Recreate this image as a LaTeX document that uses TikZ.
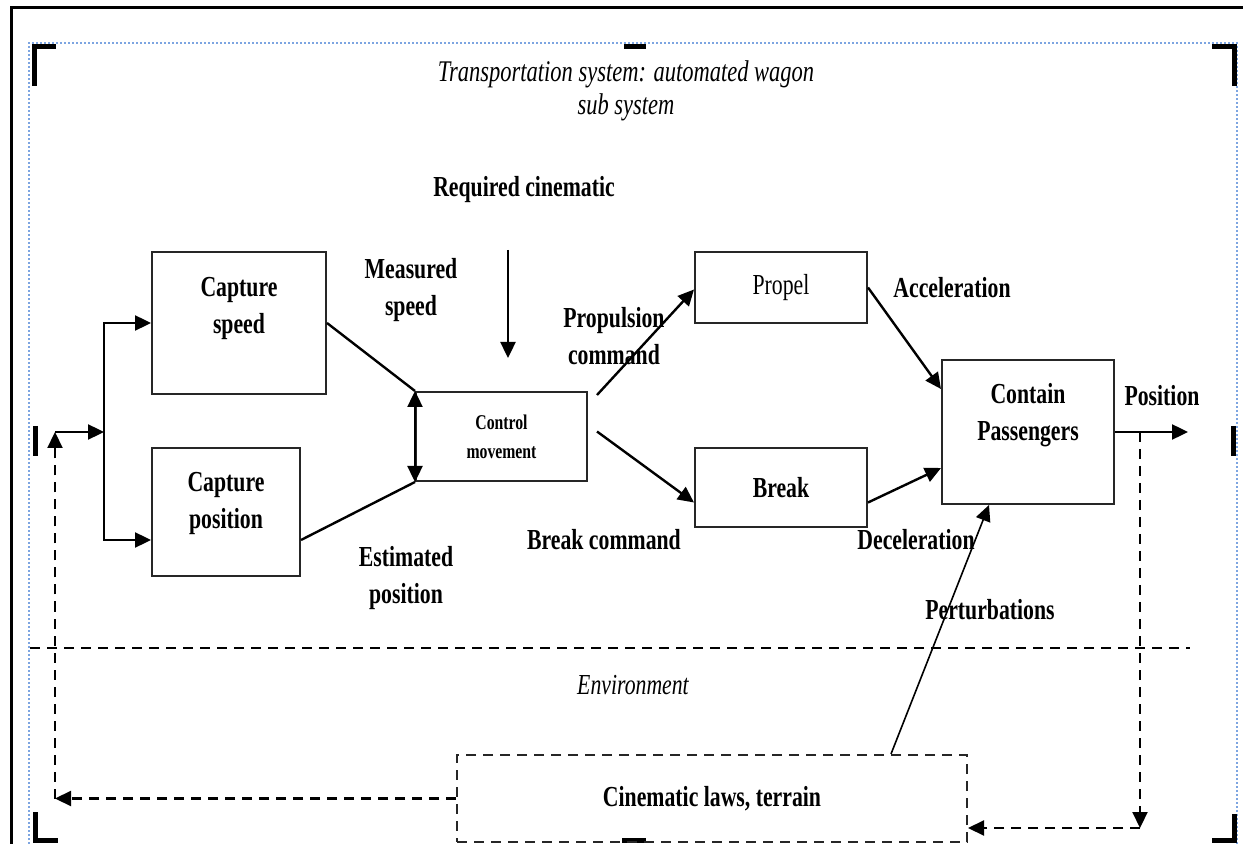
\documentclass[tikz,border=0pt]{standalone}
\usepackage{fontspec}
\setmainfont{Liberation Serif}[FakeStretch=0.75]
\usetikzlibrary{arrows.meta,calc}
\tikzset{
  box/.style={draw=black!85,line width=1pt,inner sep=0pt},
  lbl/.style={font=\fontsize{14.5}{18.5}\selectfont\bfseries,align=center,inner sep=0pt},
  wire/.style={line width=1.2pt},
  dwire/.style={line width=1.1pt,dash pattern=on 5pt off 3.5pt},
  handle/.style={line width=2.5pt,line join=miter},
}
\begin{document}
\begin{tikzpicture}[x=0.5pt,y=-0.5pt,>={Triangle[length=8pt,width=7.5pt]}]
\useasboundingbox (0,0) rectangle (1243,844);
% page frame, selection frame and handles
\draw[line width=1.5pt] (11,844) -- (11,8) -- (1243,8);
\draw[color={rgb,255:red,125;green,165;blue,225},line width=0.6pt,dash pattern=on 1pt off 1pt] (29,844) -- (29,43) -- (1237,43) -- (1237,844);
\draw[handle] (34,86) -- (34,47) -- (56,47);
\draw[handle] (624,47) -- (646,47);
\draw[handle] (1212,47) -- (1234,47) -- (1234,86);
\draw[handle] (35,426) -- (35,456);
\draw[handle] (1233,426) -- (1233,456);
\draw[handle] (35,812) -- (35,840) -- (58,840);
\draw[handle] (622,840) -- (646,840);
\draw[handle] (1212,840) -- (1234,840) -- (1234,814);

\node[lbl,font=\fontsize{15}{16.5}\selectfont\itshape] (title) at (626,91) {Transportation system: automated wagon\\sub system};
\node[lbl] (req) at (524,190) {Required cinematic};

% blocks
\node[box,minimum width=87pt,minimum height=71pt] (cs) at (239,323) {};
\node[lbl] (cs-t) at (239,308) {Capture\\speed};
\node[box,minimum width=74pt,minimum height=64pt] (cp) at (226,512) {};
\node[lbl] (cp-t) at (226,503) {Capture\\position};
\node[box,minimum width=85.5pt,minimum height=44.5pt,align=center,font=\fontsize{10.5}{14.5}\selectfont\bfseries] (cm) at (501.5,436.5) {Control\\movement};
\node[box,minimum width=86pt,minimum height=35.5pt,font=\fontsize{14.5}{17}\selectfont] (pr) at (781,287.5) {Propel};
\node[box,minimum width=86pt,minimum height=39.5pt,font=\fontsize{14.5}{17}\selectfont\bfseries] (br) at (781,487.5) {Break};
\node[box,minimum width=86pt,minimum height=72pt] (ct) at (1028,432) {};
\node[lbl] (ct-t) at (1028,415) {Contain\\Passengers};
\node[box,dash pattern=on 5pt off 3.5pt,minimum width=255pt,minimum height=43.5pt,font=\fontsize{14.5}{17}\selectfont\bfseries] (cl) at (712,798.5) {Cinematic laws, terrain};

% flow labels
\node[lbl] (ms) at (411,290) {Measured\\speed};
\node[lbl] (ep) at (406,578) {Estimated\\position};
\node[lbl] (pc) at (614,336) {Propulsion\\command};
\node[lbl] (bc) at (604,540) {Break command};
\node[lbl] (acc) at (952,288) {Acceleration};
\node[lbl] (dec) at (916,540) {Deceleration};
\node[lbl] (pos) at (1162,396) {Position};
\node[lbl] (pert) at (990,610) {Perturbations};
\node[lbl,font=\fontsize{14.5}{17}\selectfont\itshape] (env) at (633,685) {Environment};

\coordinate (fb) at (55,432);
\coordinate (sp) at (104,432);
\coordinate (bl) at (55,798.5);
\coordinate (tap) at (1140,432);
\coordinate (brc) at (1140,828);
\coordinate (out) at (1188,432);
\coordinate (rc-a) at (508,250);
\coordinate (rc-b) at (508,358);

% connectors
\draw[wire,->] (fb) -- (sp);
\draw[wire,->] (sp) |- (cs.west);
\draw[wire,->] (sp) |- ($(cp.west)+(0,28)$);
\draw[wire] (cs.east) -- (cm.north west);
\draw[wire] ($(cp.east)+(0,28)$) -- (cm.south west);
\draw[wire,<->] (cm.north west) -- (cm.south west);
\draw[wire,->] (rc-a) -- (rc-b);
\draw[wire,->] ($(cm.north east)+(9,4)$) -- ($(pr.west)+(0,2)$);
\draw[wire,->] ($(cm.east)+(9,-5)$) -- ($(br.west)+(0,15)$);
\draw[wire,->] (pr.east) -- ($(ct.north west)+(0,30)$);
\draw[wire,->] ($(br.east)+(0,15)$) -- ($(ct.west)+(0,36)$);
\draw[line width=0.8pt,->] ($(cl.north east)+(-77,0)$) -- ($(ct.south west)+(48,0)$);
\draw[wire,->] (ct.east) -- (out);
\draw[dwire,->] (tap) -- (brc);
\draw[dwire,->] (brc) -- (cl.east |- brc);
\draw[dwire,->] (cl.west) -- (bl);
\draw[dwire,->] (bl) -- (fb);
\draw[dwire] (30,648) -- (1190,648);
\end{tikzpicture}
\end{document}
